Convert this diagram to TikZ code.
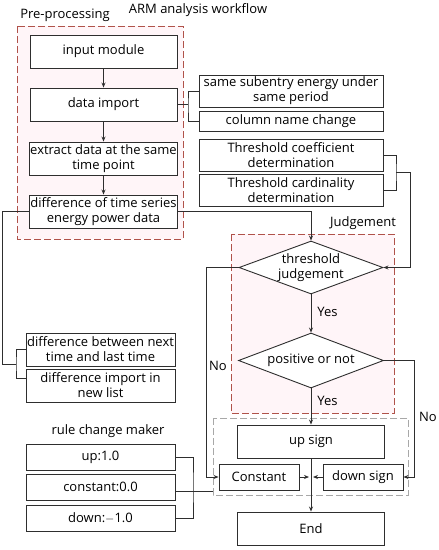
\documentclass[tikz,border=0pt]{standalone}
\usepackage{fontspec}
\setmainfont{Open Sans}
\usetikzlibrary{shapes.geometric,arrows.meta,calc}
\definecolor{redd}{HTML}{B0524A}
\definecolor{pinkf}{HTML}{FFF5F8}
\definecolor{grayd}{HTML}{A8A8A8}
\definecolor{linec}{HTML}{2E2E2E}
\tikzset{
  box/.style={draw=linec,line width=0.9pt,fill=white,rectangle,inner sep=1pt,align=center,font=\fontsize{13}{15}\selectfont},
  dia/.style={draw=linec,line width=0.9pt,fill=white,diamond,inner sep=-3pt,aspect=2.7,align=center,font=\fontsize{13}{14.5}\selectfont},
  lbl/.style={font=\fontsize{13}{15}\selectfont,inner sep=0pt},
  ttl/.style={font=\fontsize{13}{15}\selectfont,inner sep=0pt},
  conn/.style={draw=linec,line width=0.8pt},
  arr/.style={conn,-{Stealth[length=5pt,width=4pt]}},
  reddash/.style={draw=redd,line width=0.9pt,dash pattern=on 7pt off 3pt,fill=pinkf},
  graydash/.style={draw=grayd,line width=0.9pt,dash pattern=on 7pt off 3pt},
}
\begin{document}
\begin{tikzpicture}[x=1pt,y=-1pt]
\useasboundingbox[fill=white] (0,0) rectangle (439,550);
% group frames
\draw[reddash] (17,26) rectangle (183,239);
\draw[reddash] (231,234) rectangle (394,413);
\draw[graydash] (213,418) rectangle (408,495);
% titles
\node[ttl] (title) at (198,10) {ARM analysis workflow};
\node[ttl] (pre) at (65,15) {Pre-processing};
\node[ttl] (judg) at (363,223) {Judgement};
\node[ttl] (rcm) at (108,431) {rule change maker};
% pre-processing
\node[box,minimum width=147pt,minimum height=33pt] (inp) at (103.5,51.5) {input module};
\node[box,minimum width=147pt,minimum height=33pt] (imp) at (103.5,104.5) {data import};
\node[box,minimum width=147pt,minimum height=33pt] (ext) at (103.5,158.5) {extract data at the same\\time point};
\node[box,minimum width=147pt,minimum height=33pt] (dif) at (103.5,211.5) {difference of time series\\energy power data};
% right side boxes
\node[box,minimum width=184pt,minimum height=32pt] (sub) at (291,91) {same subentry energy under\\same period};
\node[box,minimum width=184pt,minimum height=20pt] (col) at (291,121) {column name change};
\node[box,minimum width=184pt,minimum height=32pt] (tco) at (291,155) {Threshold coefficient\\determination};
\node[box,minimum width=184pt,minimum height=32pt] (tca) at (291,190) {Threshold cardinality\\determination};
% left lower boxes
\node[box,minimum width=149pt,minimum height=33pt] (nxt) at (100.5,349.5) {difference between next\\time and last time};
\node[box,minimum width=149pt,minimum height=33pt] (lst) at (100.5,385.5) {difference import in\\new list};
\node[box,minimum width=149pt,minimum height=26pt] (up) at (100.5,457) {up:1.0};
\node[box,minimum width=149pt,minimum height=26pt] (cst) at (100.5,487) {constant:0.0};
\node[box,minimum width=149pt,minimum height=26pt] (dwn) at (100.5,518) {down:$-$1.0};
% decisions
\node[dia,minimum width=144pt,minimum height=53pt] (d1) at (311,267.5) {threshold\\judgement};
\node[dia,minimum width=145pt,minimum height=55pt] (d2) at (311,360.5) {positive or not};
% outputs
\node[box,minimum width=147pt,minimum height=33pt] (ups) at (311,441.5) {up sign};
\node[box,minimum width=80pt,minimum height=26pt] (con) at (259,477) {Constant};
\node[box,minimum width=80pt,minimum height=26pt] (dsn) at (363,477) {down sign};
\node[box,minimum width=147pt,minimum height=33pt] (end) at (311,528.5) {End};
% coordinates
\coordinate (b1) at (188,104.5);
\coordinate (b2) at (396,172);
\coordinate (b3) at (410,172);
\coordinate (b4) at (16,364);
\coordinate (b5) at (193,487);
\coordinate (g1) at (213,491);
\coordinate (mid1) at (309,477);
\coordinate (mid2) at (313,477);
% pre-processing flow
\draw[arr] (inp) -- (imp);
\draw[arr] (imp) -- (ext);
\draw[arr] (ext) -- (dif);
% brackets
\draw[conn] (imp.east) -- (b1);
\draw[conn] (sub.west) -| (b1) |- (col.west);
\draw[conn] (tco.east) -| (b2) |- (tca.east);
\draw[arr] (b2) -- (b3) |- (d1.east);
\draw[arr] (dif.east) -| (d1.north);
\draw[conn] (dif.west) -- ++(-26,0) |- (b4);
\draw[conn] (nxt.west) -| (b4) |- ([yshift=7pt]lst.west);
% decisions
\draw[arr] (d1.south) -- node[lbl,right=6pt,pos=0.45] (yes1) {Yes} (d2.north);
\draw[arr] (d2.south) -- node[lbl,right=6pt,pos=0.35] (yes2) {Yes} (ups.north);
\draw[arr] (d1.west) -- ++(-32,0) |- (con.west);
\node[lbl] (no1) at (218,366) {No};
\draw[arr] (d2.east) -- ++(30,0) |- (dsn.east);
\node[lbl] (no2) at (428,417) {No};
\draw[arr] (ups.south) -- (end.north);
\draw[arr] (con.east) -- (mid1);
\draw[arr] (dsn.west) -- (mid2);
% rule change maker
\draw[conn] (up.east) -| (b5) |- (dwn.east);
\draw[conn] ([yshift=-4pt]cst.east) -- (g1);
\end{tikzpicture}
\end{document}
